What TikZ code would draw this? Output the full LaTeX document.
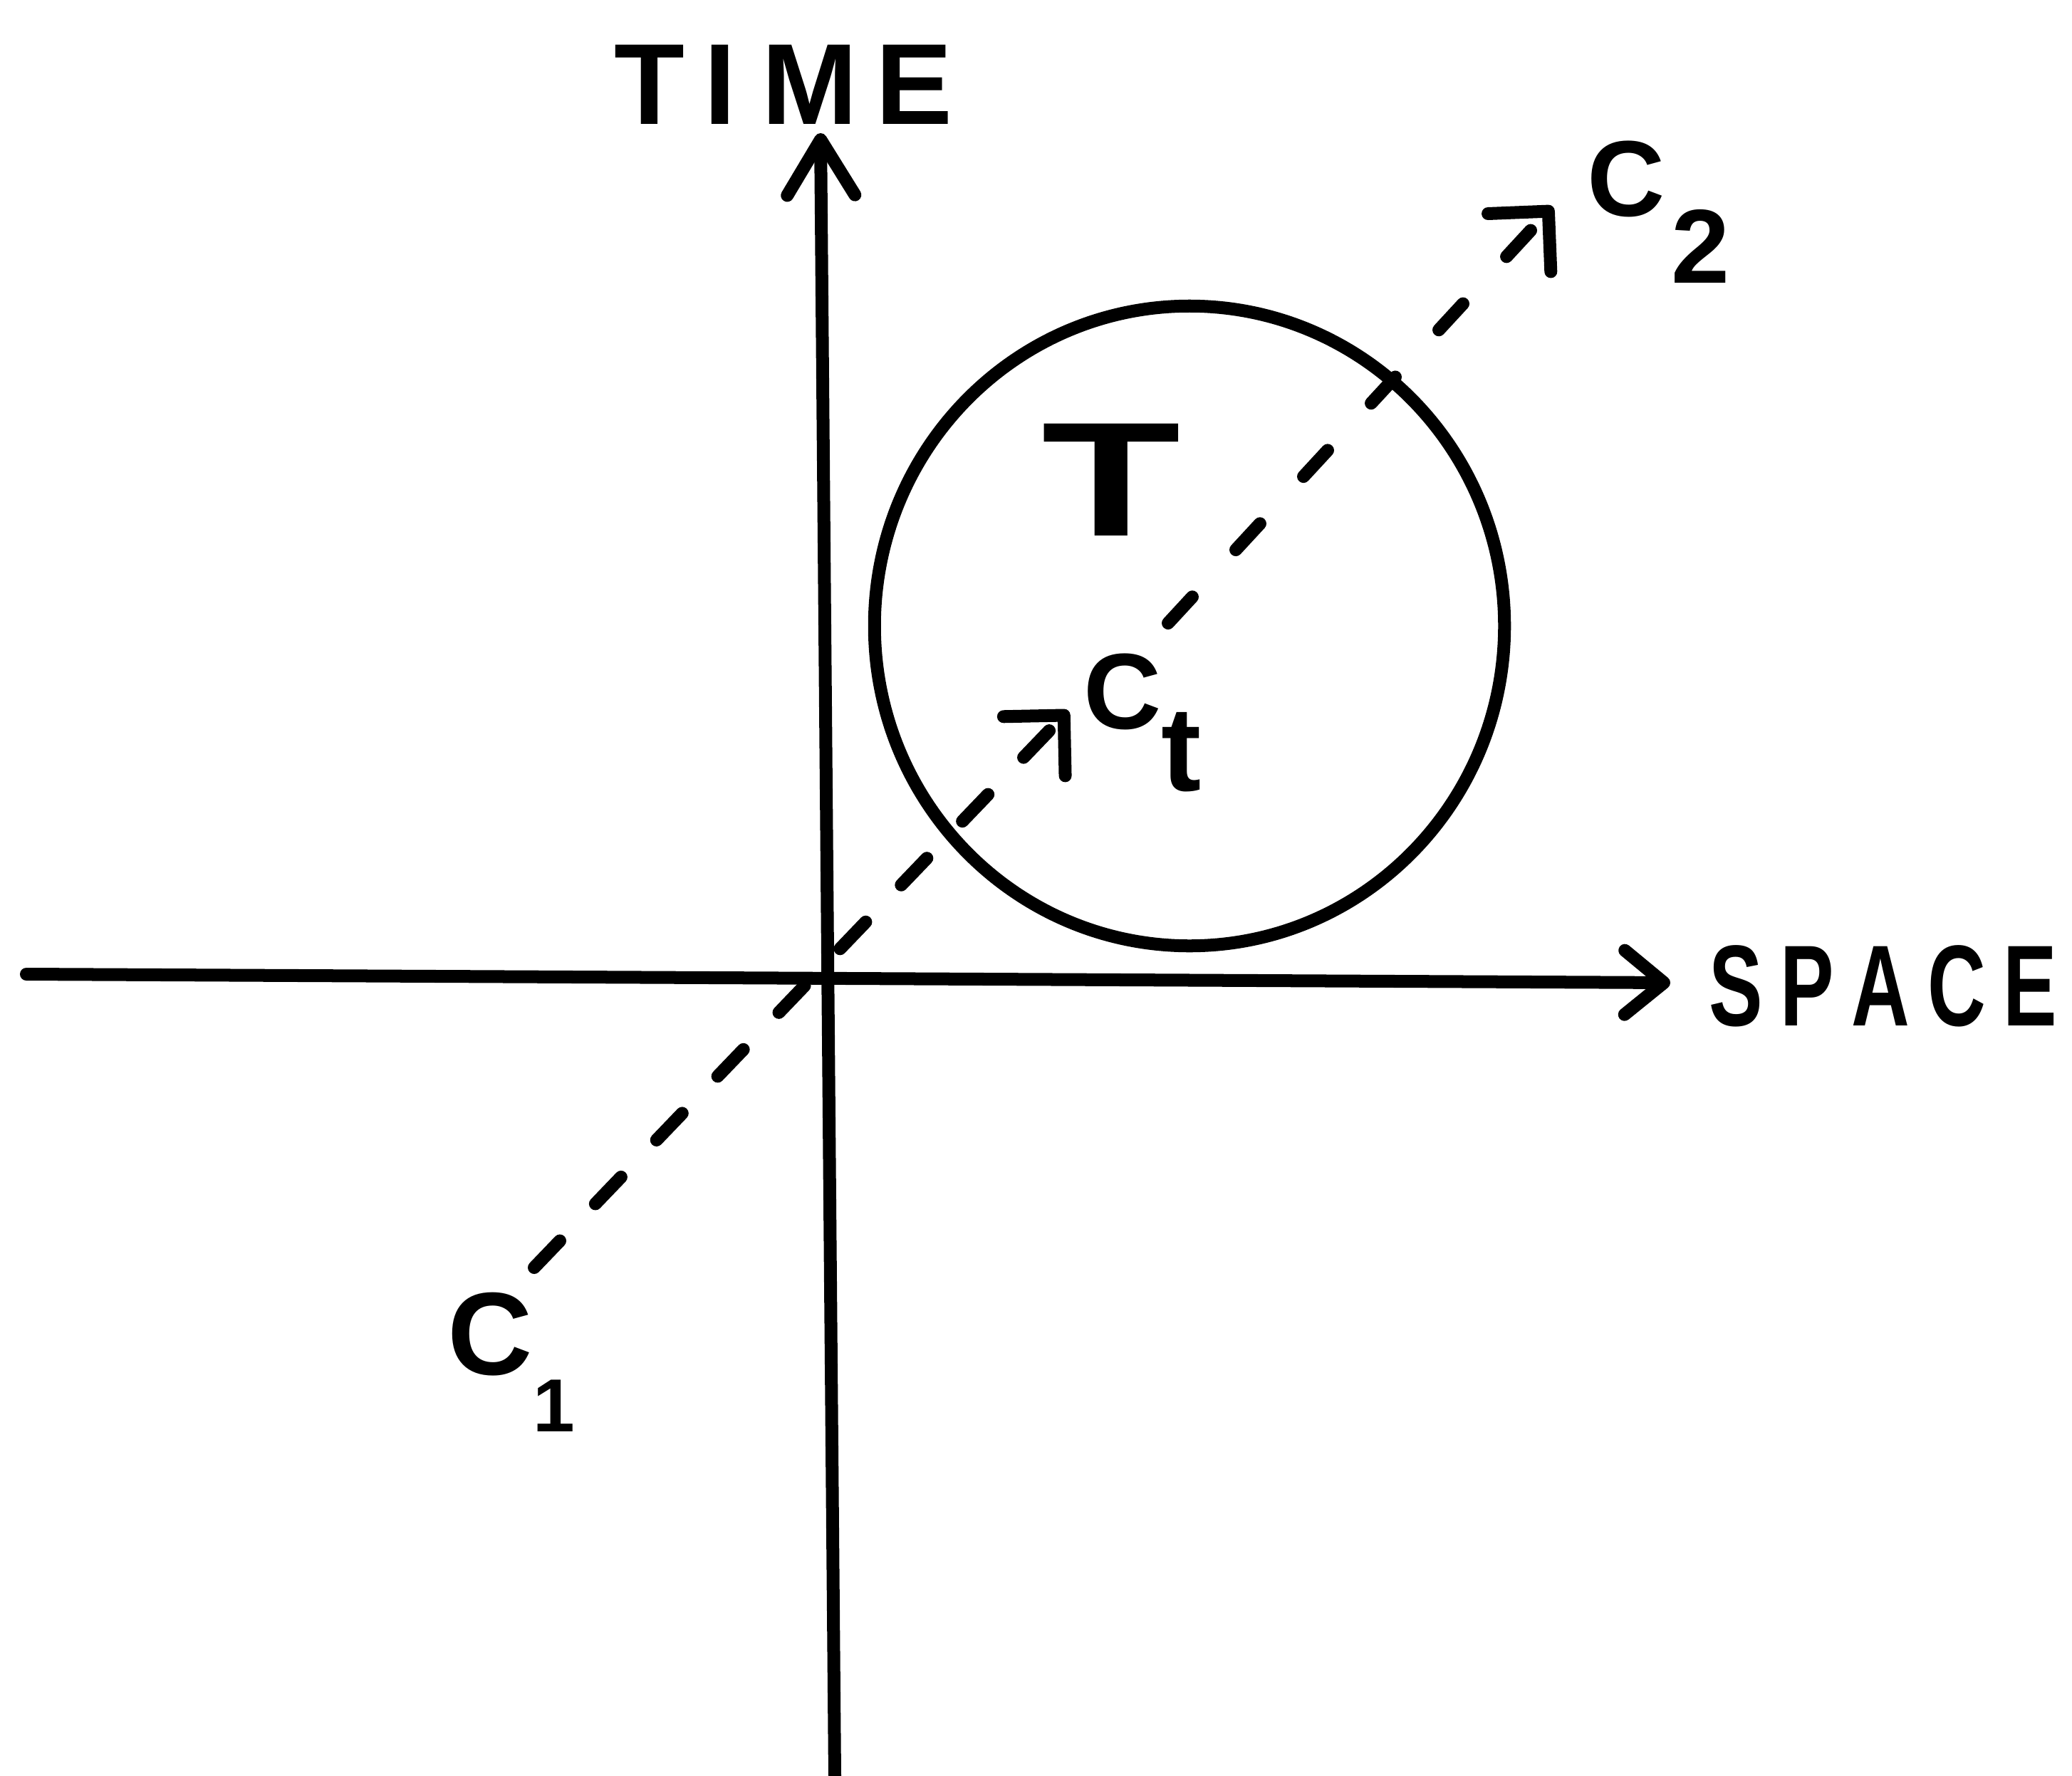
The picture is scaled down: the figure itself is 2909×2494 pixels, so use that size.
\documentclass[tikz,border=0pt]{standalone}
\usepackage{fontspec}
\setmainfont{Liberation Sans}
\usetikzlibrary{arrows.meta,shapes.geometric}
\begin{document}
\begin{tikzpicture}[x=0.01cm,y=-0.01cm,
  ink/.style={line width=0.18cm, line cap=round, line join=round, black},
  vaxis/.style={ink, -{Straight Barb[length=0.78cm,width=0.95cm,round]}},
  haxis/.style={ink, -{Straight Barb[length=0.55cm,width=0.9cm,round]}},
  dashtip/.style={-{Straight Barb[length=0.6cm,width=1.2cm,round]}},
  worldlineA/.style={ink, dashtip, dash pattern=on 0.52cm off 0.72cm},
  worldlineB/.style={ink, dashtip, dash pattern=on 0.5cm off 0.9cm},
  lbl/.style={inner sep=0pt, anchor=base west},
  region/.style={ink, draw, ellipse, inner sep=0pt, minimum width=8.84cm, minimum height=8.98cm}
]
\useasboundingbox (0,0) rectangle (2909,2494);

% axes
\coordinate (xl) at (37,1368);
\coordinate (xr) at (2345,1380);
\coordinate (yt) at (1152,187);
\coordinate (yb) at (1172,2494);
\draw[haxis] (xl) -- (xr);
\draw[vaxis] (yb) -- (yt);

% region T
\node[region] (circ) at (1670,879) {};

% labels
\node[lbl, font=\fontsize{46}{46}\selectfont\bfseries] (time) at (862,175) {T\kern7.7pt I\kern10.2pt M\kern7.1pt E};
\node[lbl, font=\fontsize{46}{46}\selectfont\bfseries] (space) at (2399,1440) {\scalebox{0.7}[1]{S\kern10pt P\kern10pt A\kern10pt C\kern10pt E}};
\node[lbl, font=\fontsize{65}{65}\selectfont\bfseries] (tlab) at (1462,752) {\scalebox{1.4}[1]{T}};
\node[lbl, font=\fontsize{43}{43}\selectfont\bfseries] (ct) at (1521,1023) {C\raisebox{-0.87cm}{\fontsize{48}{48}\selectfont t}};
\node[lbl, font=\fontsize{43}{43}\selectfont\bfseries] (c2) at (2228,303) {C\kern2.5pt\raisebox{-0.94cm}{\fontsize{42}{42}\selectfont 2}};
\node[lbl, font=\fontsize{47}{47}\selectfont\bfseries] (c1) at (628,1930) {C\kern0pt\raisebox{-0.8cm}{\fontsize{30}{30}\selectfont 1}};

% world line
\coordinate (c1s) at (750,1780);
\coordinate (cttip) at (1500,998);
\coordinate (ctnext) at (1640,875);
\coordinate (c2tip) at (2180,290);
\draw[worldlineA] (c1s) -- (cttip);
\draw[worldlineB] (ctnext) -- (c2tip);
\end{tikzpicture}
\end{document}
